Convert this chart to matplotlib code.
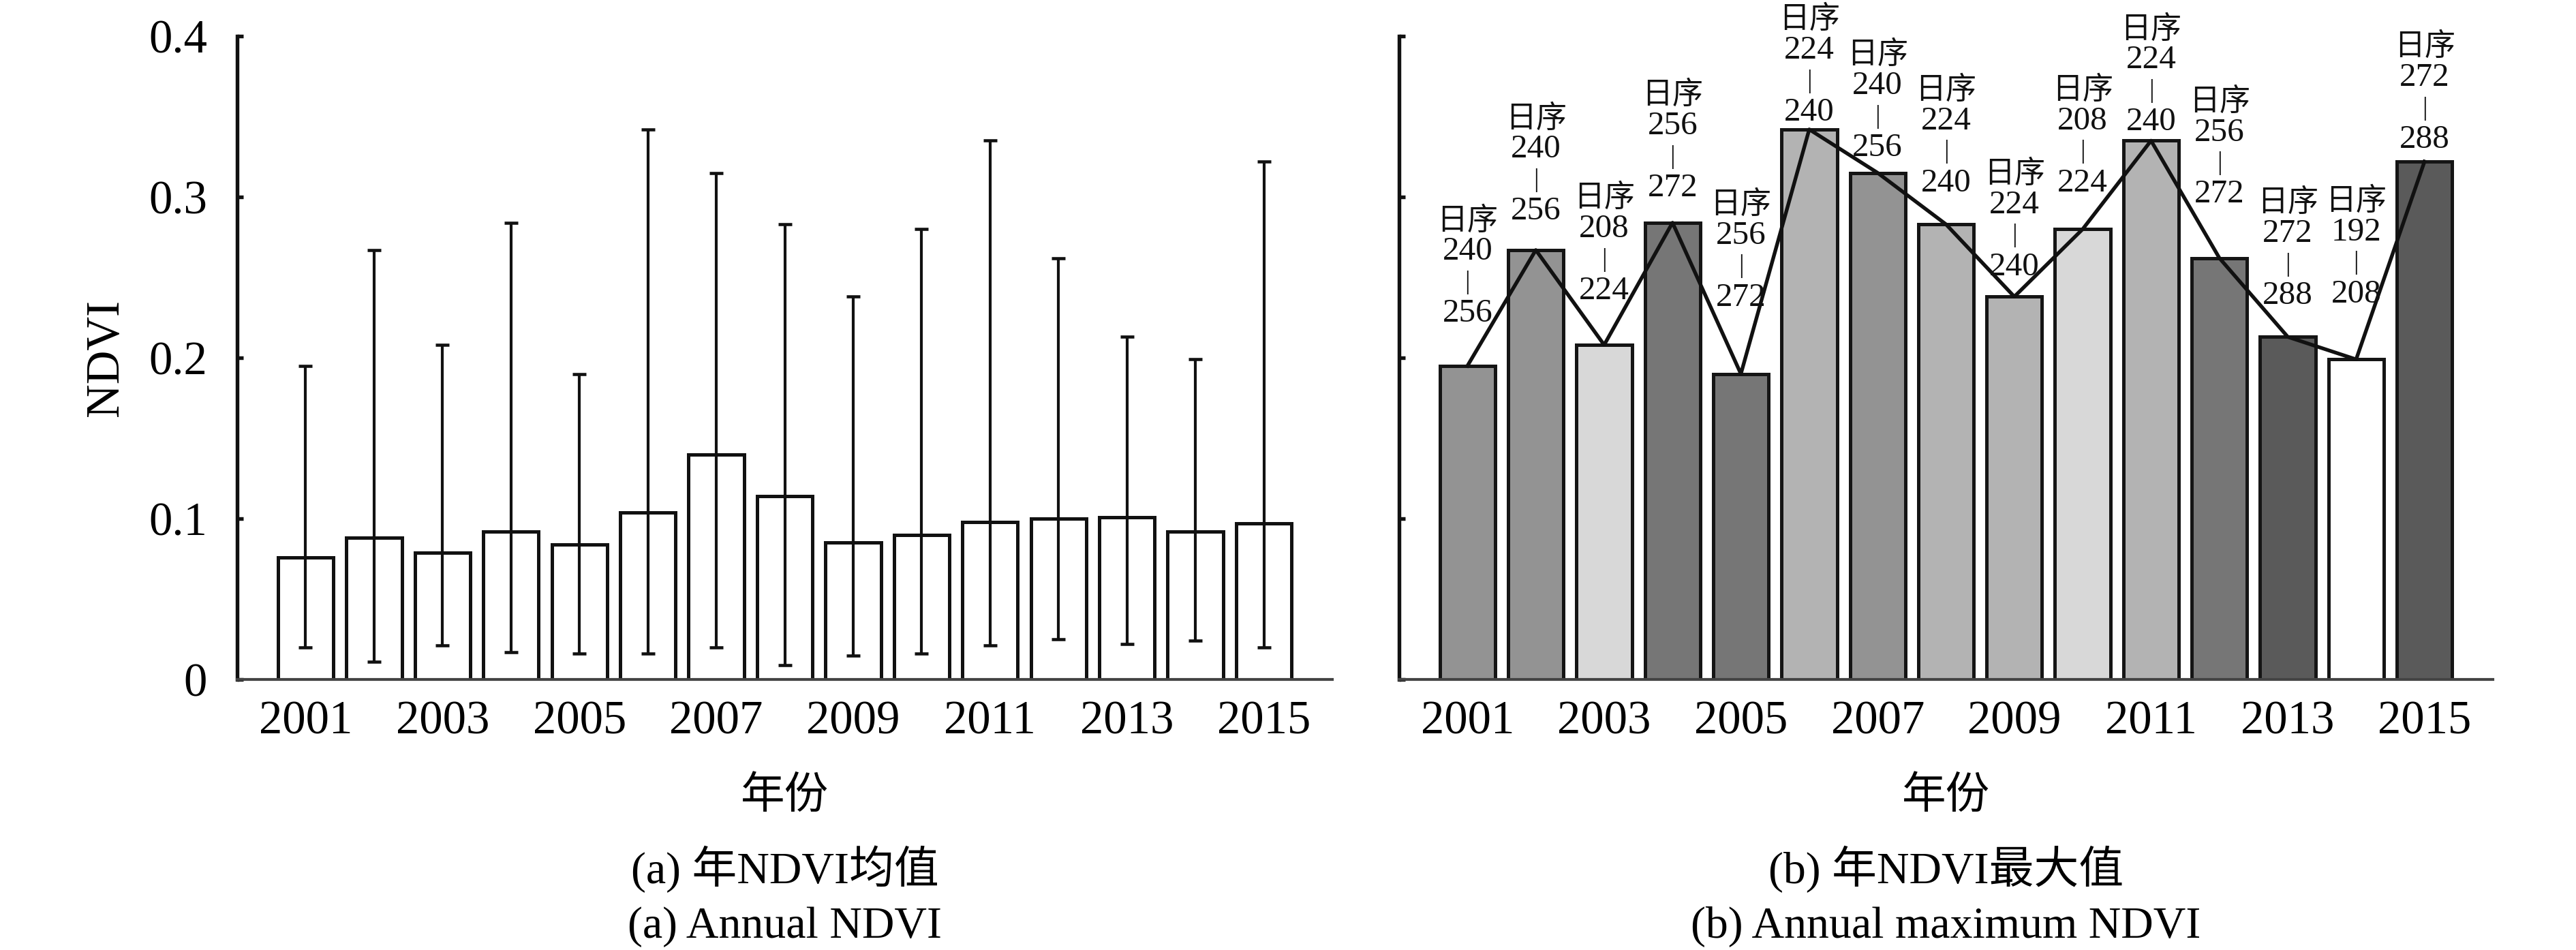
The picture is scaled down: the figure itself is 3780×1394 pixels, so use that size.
import matplotlib
matplotlib.use("Agg")
import matplotlib.pyplot as plt
import numpy as np

# ---------------- data ----------------
years = [2001, 2002, 2003, 2004, 2005, 2006, 2007, 2008,
         2009, 2010, 2011, 2012, 2013, 2014, 2015]
ndvi_mean = [0.076, 0.088, 0.079, 0.092, 0.084, 0.104, 0.140, 0.114,
             0.085, 0.090, 0.098, 0.100, 0.101, 0.092, 0.097]
ndvi_min = [0.020, 0.011, 0.021, 0.017, 0.016, 0.016, 0.020, 0.009,
            0.015, 0.016, 0.021, 0.025, 0.022, 0.024, 0.020]
ndvi_max = [0.195, 0.267, 0.208, 0.284, 0.190, 0.342, 0.315, 0.283,
            0.238, 0.280, 0.335, 0.262, 0.213, 0.199, 0.322]
doy_start = [240, 240, 208, 256, 256, 224, 240, 224,
             224, 208, 224, 256, 272, 192, 272]
doy_end = [256, 256, 224, 272, 272, 240, 256, 240,
           240, 224, 240, 272, 288, 208, 288]
tick_years = [2001, 2003, 2005, 2007, 2009, 2011, 2013, 2015]
yticks = [0, 0.1, 0.2, 0.3, 0.4]
ytick_labels = ["0", "0.1", "0.2", "0.3", "0.4"]

# ---------------- styles ----------------
doy_colors = {192: "#ffffff", 208: "#d8d8d8", 224: "#b3b3b3",
              240: "#939393", 256: "#767676", 272: "#5a5a5a"}
# vertical offset (points) of each label's centre from its bar top
label_dy_pt = [29.4, 24.6, 30.0, 23.2, 37.9, 17.0, 19.8, 25.5,
               21.5, 27.2, 17.5, 33.4, 25.5, 34.0, 18.7]

FAM = ["Liberation Serif", "Noto Sans CJK SC"]
plt.rcParams["font.family"] = FAM

W, H, DPI = 3780, 1394, 300
fig = plt.figure(figsize=(W / DPI, H / DPI), dpi=DPI)

ax_b = 1 - 997 / H
ax_h = (997 - 53) / H
axL = fig.add_axes([348 / W, ax_b, (1955 - 348) / W, ax_h])
axR = fig.add_axes([2053 / W, ax_b, (3658 - 2053) / W, ax_h])

TICK_FS = 16.5
BAR_W = 0.81


def style_axes(ax, labels=True):
    ax.set_xlim(2000, 2016)
    ax.set_ylim(0, 0.4)
    for s in ("top", "right"):
        ax.spines[s].set_visible(False)
    ax.spines["left"].set_linewidth(1.3)
    ax.spines["left"].set_color("#111111")
    ax.spines["bottom"].set_linewidth(1.0)
    ax.spines["bottom"].set_color("#444444")
    ax.set_xticks(years)
    ax.set_xticklabels([str(y) if y in tick_years else "" for y in years])
    ax.set_yticks(yticks)
    ax.set_yticklabels(ytick_labels if labels else [""] * len(yticks))
    ax.tick_params(axis="x", direction="in", length=1.6, width=1.1,
                   pad=7.5, labelsize=TICK_FS, color="#222222")
    ax.tick_params(axis="y", direction="in", length=2.2, width=1.3,
                   pad=10.5, labelsize=TICK_FS, color="#111111")
    for t in ax.get_xticklabels() + ax.get_yticklabels():
        t.set_fontfamily(FAM)


# ---------------- left panel ----------------
mean_a = np.array(ndvi_mean)
yerr = [mean_a - np.array(ndvi_min), np.array(ndvi_max) - mean_a]
axL.bar(years, ndvi_mean, width=BAR_W, color="white", edgecolor="#111111",
        linewidth=1.2, zorder=2)
axL.errorbar(years, ndvi_mean, yerr=yerr, fmt="none", ecolor="#111111",
             elinewidth=1.0, capsize=2.3, capthick=1.1, zorder=3)
style_axes(axL, labels=True)

# ---------------- right panel ----------------
colors = [doy_colors[d] for d in doy_start]
axR.bar(years, ndvi_max, width=BAR_W, color=colors, edgecolor="#151515",
        linewidth=1.2, zorder=2)
axR.plot(years, ndvi_max, color="#111111", linewidth=1.3, zorder=3)
style_axes(axR, labels=False)

for yr, top, d0, d1, dy in zip(years, ndvi_max, doy_start, doy_end, label_dy_pt):
    lines = [("日序", 21.6, 10.8), (str(d0), 10.8, 11.8),
             ("|", 0.0, 9.0), (str(d1), -11.0, 11.8)]
    for txt, off, fs in lines:
        axR.annotate(txt, xy=(yr, top), xytext=(0, dy + off),
                     textcoords="offset points", ha="center", va="center",
                     fontsize=fs, family=FAM, color="#111111",
                     annotation_clip=False, zorder=4)

# ---------------- axis titles & captions ----------------
fig.text(156 / W, 1 - 525 / H, "NDVI", rotation=90, ha="center",
         va="center", fontsize=16.5, family=FAM)
for cx, cap1, cap2 in [((348 + 1955) / 2 / W, "(a) 年NDVI均值", "(a) Annual NDVI"),
                       ((2053 + 3658) / 2 / W, "(b) 年NDVI最大值",
                        "(b) Annual maximum NDVI")]:
    fig.text(cx, 1 - 1170 / H, "年份", ha="center", va="center",
             fontsize=15.5, family=FAM)
    fig.text(cx, 1 - 1296 / H, cap1, ha="center", va="baseline",
             fontsize=15.8, family=FAM)
    fig.text(cx, 1 - 1376 / H, cap2, ha="center", va="baseline",
             fontsize=15.8, family=FAM)

fig.savefig("out.png", dpi=DPI, facecolor="white")
